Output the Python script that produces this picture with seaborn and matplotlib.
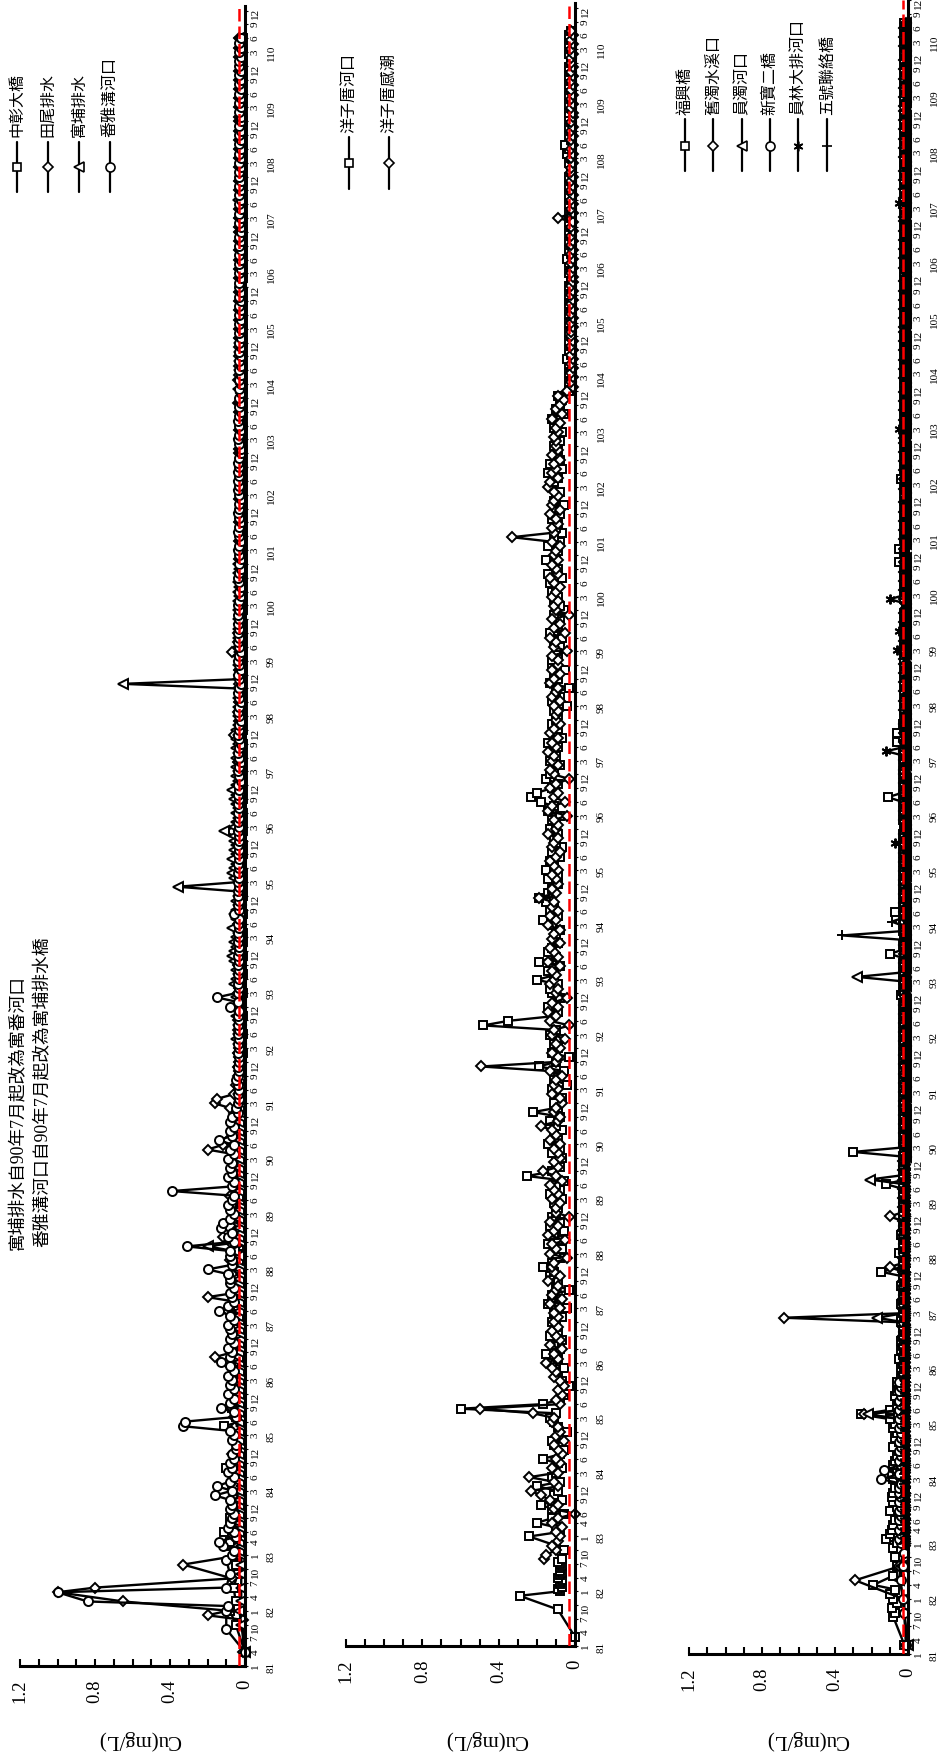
import numpy as np
import pandas as pd
import matplotlib
matplotlib.use('Agg')
import matplotlib.pyplot as plt
import seaborn as sns
from matplotlib.lines import Line2D
from matplotlib.ticker import MultipleLocator

# Cu (mg/L)
# 81~82年: 不定期採樣 -> (月序, 值), 月序 = (年-81)*12 + 月-1
# 83年起: 逐月, 每字 = 0.01 mg/L (base-36, a=10 ... z=35), 一組 = 一年
# 峰值另列 (年, 月, 值)

# ---------------- 上圖 ----------------
zhangda_early = [(3, 0.0), (9, 0.05), (12, 0.08), (14, 0.05), (17, 0.06), (20, 0.04), (22, 0.05)]
zhangda_base = """
567845638476 465735846354 346283527463 243524353425 352432453243 243352432343
324234523432 232432342323 232323423232 212321232123 221232123212 212123212321
121212321212 212121231212 121212121321 212121212121 121212121212 212112121211
121211212121 112121211212 121211212112 112121121211 121121211212 211212112121
121121212112 112121121211 121211212112 121121
"""
zhangda_peaks = [(83, 3, 0.10), (83, 6, 0.11), (84, 8, 0.10), (85, 5, 0.11)]

tianwei_early = [(3, 0.01), (10, 0.01), (11, 0.20), (12, 0.09), (14, 0.65), (16, 1.0), (17, 0.80),
                 (19, 0.07), (22, 0.33)]
tianwei_base = """
354263745362 463574635473 364253647364 457368957463 465379857463 574683758464
465375846353 574685947563 685463524343 343243424323 324343234243 243234324232
323242323423 232423243232 323242323262 232423232323 323272434232 232323232323
323232323232 232323232323 323232323242 232432323232 323232323232 232323232323
323232323232 232323232323 323232323232 232323
"""
tianwei_peaks = [(86, 8, 0.16), (87, 9, 0.20), (88, 10, 0.12), (90, 5, 0.20), (90, 6, 0.12),
                 (91, 3, 0.16), (91, 4, 0.15)]

yubu_early = [(3, 0.0), (9, 0.02), (12, 0.03), (14, 0.02), (17, 0.02), (20, 0.02), (22, 0.02)]
yubu_base = """
232323232323 323232323232 232323232323 323232343232 232343232323 323243632323
232323432323 323232323232 232343232343 343454343545 454365454676 565474565454
454676575656 686545456575 454545454545 434343434343 343434343434 343434343434
323232323232 232323232323 323232323232 242323232323 323232323232 232323232323
323232423232 232323232323 323232323232 232323
"""
yubu_peaks = [(88, 8, 0.20), (95, 2, 0.36), (96, 2, 0.11), (98, 10, 0.65)]

fanya_early = [(3, 0.0), (8, 0.10), (12, 0.10), (13, 0.09), (14, 0.84), (16, 1.0), (17, 0.10),
               (20, 0.08), (23, 0.10)]
fanya_base = """
768956987687 897686978675 576899567869 687968687968 789687967868 898778896978
786897687697 879686978687 454343454343 343434343438 434343434343 343434363434
434343434343 343434343434 234323432343 323432343234 234323434343 434323234323
234323432343 323434343432 234323432323 232323232323 232323232323 323232323232
232323232323 323232323232 232323232323 323232
"""
fanya_peaks = [(83, 3, 0.12), (83, 4, 0.14), (84, 2, 0.16), (84, 4, 0.15), (85, 5, 0.33),
               (85, 6, 0.32), (85, 9, 0.13), (86, 7, 0.13), (87, 6, 0.14), (88, 3, 0.20),
               (88, 8, 0.31), (88, 12, 0.13), (89, 1, 0.12), (89, 8, 0.39), (90, 7, 0.14),
               (93, 2, 0.15)]

# ---------------- 中圖 ----------------
yzc_river_early = [(2, 0.0), (8, 0.09), (11, 0.29), (12, 0.08), (12.5, 0.09), (13, 0.07), (13.5, 0.08),
                   (14, 0.08), (14.5, 0.07), (15, 0.09), (15.5, 0.08), (16, 0.07), (16.5, 0.08),
                   (17, 0.08), (17.5, 0.07), (18, 0.08), (18.5, 0.09), (19, 0.07), (21, 0.06), (22, 0.10)]
yzc_river_base = """
o8akc6ci7b9k 8ca79h86bc84 9bdahh865379 a6c9f8b7d9ac 7b4e8c3a9dbh c8a7e9b6d8ca
9b7d8a6pc8a7 c8e9b7ad8m9b 7ac4b96ja3c9 b8dawzc9ea8c d9kbe8jaec9b a8ch9dbfjec9
e9fbd8c7ab9d ac8ebinkc9fd b8dac9e7b9ca 9b4c8a3d9b5c c9a8b7d9a8b6 8b9cad7e9bfa
9e8b7a9c8a6b a8cb9e7d8a9b 8a7b9c6a8793 232323423232 323232323232 232342323232
323232323232 232433232323 323232323232 2323232
"""
yzc_river_peaks = [(85, 5, 0.60), (92, 5, 0.48), (92, 6, 0.35), (106, 5, 0.04), (108, 6, 0.05)]

yzc_tidal_early = [(19, 0.16), (20, 0.15), (21, 0.10), (22, 0.12), (23, 0.09)]
yzc_tidal_base = """
8a7c90b9din9 bo9c8a79b6a8 9cbmz8a7968b acf9b7d8ac9b 9b8d7ca9e8bc b4dac5eb9d3a
a8c9bd7ah9b8 9b8daci98ba7 8c9ba7dza9c8 a5cb3dae9c4a 9dbac8e9bd8c b8ead9cbjac9
ac9bda8cb9ea 9b4ec5b9da3b d9cbeac9db8a a9b8ca9db8c9 9c4bad5b8c3a b9ca8bd9ac9b
a8czbc9ad8cb 9bed9cab8c9a ab9a8c7a8694 121212121212 212121212121 121212121212
121212121212 212121212121 121212121212 2121212
"""
yzc_tidal_peaks = [(85, 5, 0.50), (91, 8, 0.49), (101, 4, 0.33), (107, 2, 0.09)]

# ---------------- 下圖 ----------------
fuxing_early = [(2, 0.02), (8, 0.08), (9, 0.07), (10, 0.09), (11, 0.06), (12, 0.08), (13, 0.10),
                (14, 0.07), (15, 0.19), (17, 0.08), (19, 0.06), (21, 0.07), (23, 0.08)]
fuxing_base = """
6ca9875a6898 758968765857 687aqa657656 434353434323 44324323423f 323532342323
232323c23232 3u2323232323 232323232323 232323232324 32323232a232 232327232323
323232323232 232323b32323 323232636232 121212121212 212121212121 121212121512
512121212121 212412121212 121212121212 212121212121 121212121212 212121212121
121212121212 212121212121 121212121212 2121212
"""
fuxing_peaks = []

jiuzhuo_early = [(2, 0.01), (9, 0.02), (12, 0.03), (16, 0.29), (19, 0.05), (22, 0.02)]
jiuzhuo_base = """
343434343434 434343434343 3434o4343434 232323232323 2z2323232323 a2323232323a
232323232323 121212121212 212121212121 121212121212 212121212121 121212121212
212121212121 121212121212 212121212121 121212121212 212121212121 121212121212
212121212121 121212121212 212121212121 121212121212 212121212121 121212121212
212121212121 121212121212 212121212121 1212121
"""
jiuzhuo_peaks = [(87, 2, 0.68)]

yuanzhuo_early = [(2, 0.0), (9, 0.02), (12, 0.02), (16, 0.05), (19, 0.04), (22, 0.02)]
yuanzhuo_base = """
232323232323 323232323232 2323m3232323 232323232323 2h2323232323 323232323232
2323232l2323 121212121212 212121212121 121212121212 212s21212121 121212121212
212121212121 121212121212 212121212121 121212121212 212121212121 121212121212
212121212121 121212121212 212121212121 121212121212 212121212121 121212121212
212121212121 121212121212 212121212121 1212121
"""
yuanzhuo_peaks = []

xinbao_early = [(2, 0.01), (9, 0.02), (12, 0.03), (16, 0.04), (19, 0.03), (22, 0.02)]
xinbao_base = """
454545454545 54f5d4545454 454545454545 232323232323 323232323232 232323232323
323232323232 121212121212 212121212121 121212121212 212121212121 121212121212
212121212121 121212121212 212121212121 121212121212 212121212121 121212121212
212121212121 121212121212 212121212121 121212121212 212121212121 121212121212
212121212121 121212121212 212121212121 1212121
"""
xinbao_peaks = []

yuanlin_early = []
yuanlin_base = """
121212121212 212121212121 121212121212 212121212121 121212121212 212121212121
121212121212 212121212121 121212121212 212121212121 121212121212 212121212121
121212127212 212121212121 1212c1212121 212121212121 126121512121 1a1212121212
212121212121 121212121212 215121212121 121212121212 212121212121 121212121212
121512121212 212121212121 121212121212 1212121
"""
yuanlin_peaks = []

wuhao_early = []
wuhao_base = """
212121212121 121212121212 212121212121 121212121212 212121212121 121212121212
212121212121 121212121212 212121212121 121212121212 212121212121 z12912121212
212121212121 121212121212 212121212121 121212121212 212121212121 121212121212
212121212121 121212121212 212121212121 121212121212 212121212121 121212121212
212121212121 121212121212 212121212121 2121212
"""
wuhao_peaks = [(94, 1, 0.36)]

standard_cu = 0.03


def midx(y, m):
    return (y - 81) * 12 + m - 1


def build(early, base, peaks):
    t = [a for a, b in early]
    v = [b for a, b in early]
    for k, grp in enumerate(base.split()):
        for j, c in enumerate(grp):
            t.append(midx(83 + k, j + 1))
            v.append(int(c, 36) / 100)
    s = pd.Series(v, index=pd.Index(t, dtype=float), dtype=float)
    for y, m, val in peaks:
        s.loc[float(midx(y, m))] = val
    s = s.sort_index()
    return pd.DataFrame({'t': s.index.values, 'cu': s.values})


# tick layout of the time axis
tick_pos, tick_lab, year_pos = [], [], []
for y in range(81, 111):
    if y < 83:
        months = [1, 4, 7, 10]
    elif y == 83:
        months = [1, 4, 6, 9, 12]
    else:
        months = [3, 6, 9, 12]
    for m in months:
        tick_pos.append(midx(y, m))
        tick_lab.append(str(m))
    year_pos.append((y, midx(y, months[0])))

sns.set_theme(style='white', rc={'axes.edgecolor': 'black', 'xtick.color': 'black',
                                 'ytick.color': 'black', 'text.color': 'black'})
plt.rcParams['font.family'] = ['Liberation Serif', 'Noto Sans CJK TC', 'DejaVu Sans']
CJK = ['Noto Sans CJK TC', 'DejaVu Sans']
AST = (6, 2, 0)

W, H = 946, 1765
fig = plt.figure(figsize=(W / 100, H / 100), dpi=100)

panels = [
    dict(x0=20, x1=245, y0=1667, ppm=4.611, top=360,
         series=[(build(zhangda_early, zhangda_base, zhangda_peaks), '中彰大橋', 's', 6),
                 (build(tianwei_early, tianwei_base, tianwei_peaks), '田尾排水', 'D', 5),
                 (build(yubu_early, yubu_base, yubu_peaks), '寓埔排水', '<', 6.5),
                 (build(fanya_early, fanya_base, fanya_peaks), '番雅溝河口', 'o', 6.5)],
         leg_x=[17, 48, 79, 110], leg_y=(143, 193, 168, 137), label_x=140),
    dict(x0=346, x1=575, y0=1647, ppm=4.563, top=360,
         series=[(build(yzc_river_early, yzc_river_base, yzc_river_peaks), '洋子厝河口', 's', 6),
                 (build(yzc_tidal_early, yzc_tidal_base, yzc_tidal_peaks), '洋子厝感潮', 'D', 5)],
         leg_x=[349, 389], leg_y=(138, 190, 164, 133), label_x=487),
    dict(x0=689, x1=908, y0=1655, ppm=4.632, top=357,
         series=[(build(fuxing_early, fuxing_base, fuxing_peaks), '福興橋', 's', 6),
                 (build(jiuzhuo_early, jiuzhuo_base, jiuzhuo_peaks), '舊濁水溪口', 'D', 5),
                 (build(yuanzhuo_early, yuanzhuo_base, yuanzhuo_peaks), '員濁河口', '<', 6.5),
                 (build(xinbao_early, xinbao_base, xinbao_peaks), '新寶二橋', 'o', 6.5),
                 (build(yuanlin_early, yuanlin_base, yuanlin_peaks), '員林大排河口', AST, 7),
                 (build(wuhao_early, wuhao_base, wuhao_peaks), '五號聯絡橋', '+', 7)],
         leg_x=[685, 713, 742, 770, 798, 827], leg_y=(120, 172, 147, 115), label_x=808),
]

for p in panels:
    ax = fig.add_axes([p['x0'] / W, 1 - p['y0'] / H, (p['x1'] - p['x0']) / W,
                       p['top'] * p['ppm'] / H])
    for df, name, mk, ms in p['series']:
        sns.lineplot(data=df, x='cu', y='t', orient='y', sort=False, estimator=None, ax=ax,
                     color='black', lw=1.7, marker=mk, ms=ms, mfc='white', mec='black',
                     mew=1.4, clip_on=False)
    ax.axvline(standard_cu, color='red', lw=1.8, dashes=(5, 2), zorder=5)
    ax.set_xlim(1.2, 0)
    ax.set_ylim(0, p['top'])
    ax.set_xlabel('')
    ax.set_ylabel('')
    ax.set_xticks([0, 0.4, 0.8, 1.2], labels=['0', '0.4', '0.8', '1.2'])
    ax.xaxis.set_minor_locator(MultipleLocator(0.1))
    ax.tick_params(axis='x', which='both', direction='in', length=5, width=1.5,
                   bottom=True, top=False, labelrotation=90, labelsize=13.5, pad=9)
    ax.yaxis.tick_right()
    ax.set_yticks(tick_pos, labels=tick_lab)
    ax.tick_params(axis='y', which='both', direction='out', length=2, width=0.8,
                   right=True, left=False, labelrotation=90, labelsize=8, pad=2)
    for y, pos in year_pos:
        if pos <= p['top']:
            ax.annotate(str(y), xy=(1, pos), xycoords=('axes fraction', 'data'),
                        xytext=(15.5, 0), textcoords='offset points', rotation=90,
                        ha='left', va='center', fontsize=8, annotation_clip=False)
    for side in ['left', 'top']:
        ax.spines[side].set_visible(False)
    for side in ['bottom', 'right']:
        ax.spines[side].set_linewidth(2.2)
    ax.patch.set_alpha(0)

    # legend (rotated page)
    ytop, ybot, ymk, ytxt = p['leg_y']
    for x, (df, name, mk, ms) in zip(p['leg_x'], p['series']):
        fig.add_artist(Line2D([x / W, x / W], [1 - ytop / H, 1 - ybot / H], color='black', lw=1.6))
        fig.add_artist(Line2D([x / W], [1 - ymk / H], marker=mk, ms=ms, mfc='white',
                              mec='black', mew=1.2, ls='none'))
        fig.text(x / W, 1 - ytxt / H, name, rotation=90, ha='center', va='bottom',
                 fontsize=11.5, family=CJK)

    fig.text(p['label_x'] / W, 1 - 1740 / H, 'Cu(mg/L)', rotation=180, ha='center',
             va='center', fontsize=15)

# note in the top panel
note_font = ['Liberation Serif', 'Noto Sans CJK TC', 'DejaVu Sans']
fig.text(18 / W, 1 - 1250 / H, '寓埔排水自90年7月起改為寓番河口', rotation=90,
         ha='center', va='bottom', fontsize=12.8, family=note_font)
fig.text(43 / W, 1 - 1247 / H, '番雅溝河口自90年7月起改為寓埔排水橋', rotation=90,
         ha='center', va='bottom', fontsize=12.8, family=note_font)

fig.savefig('out.png', dpi=100)
